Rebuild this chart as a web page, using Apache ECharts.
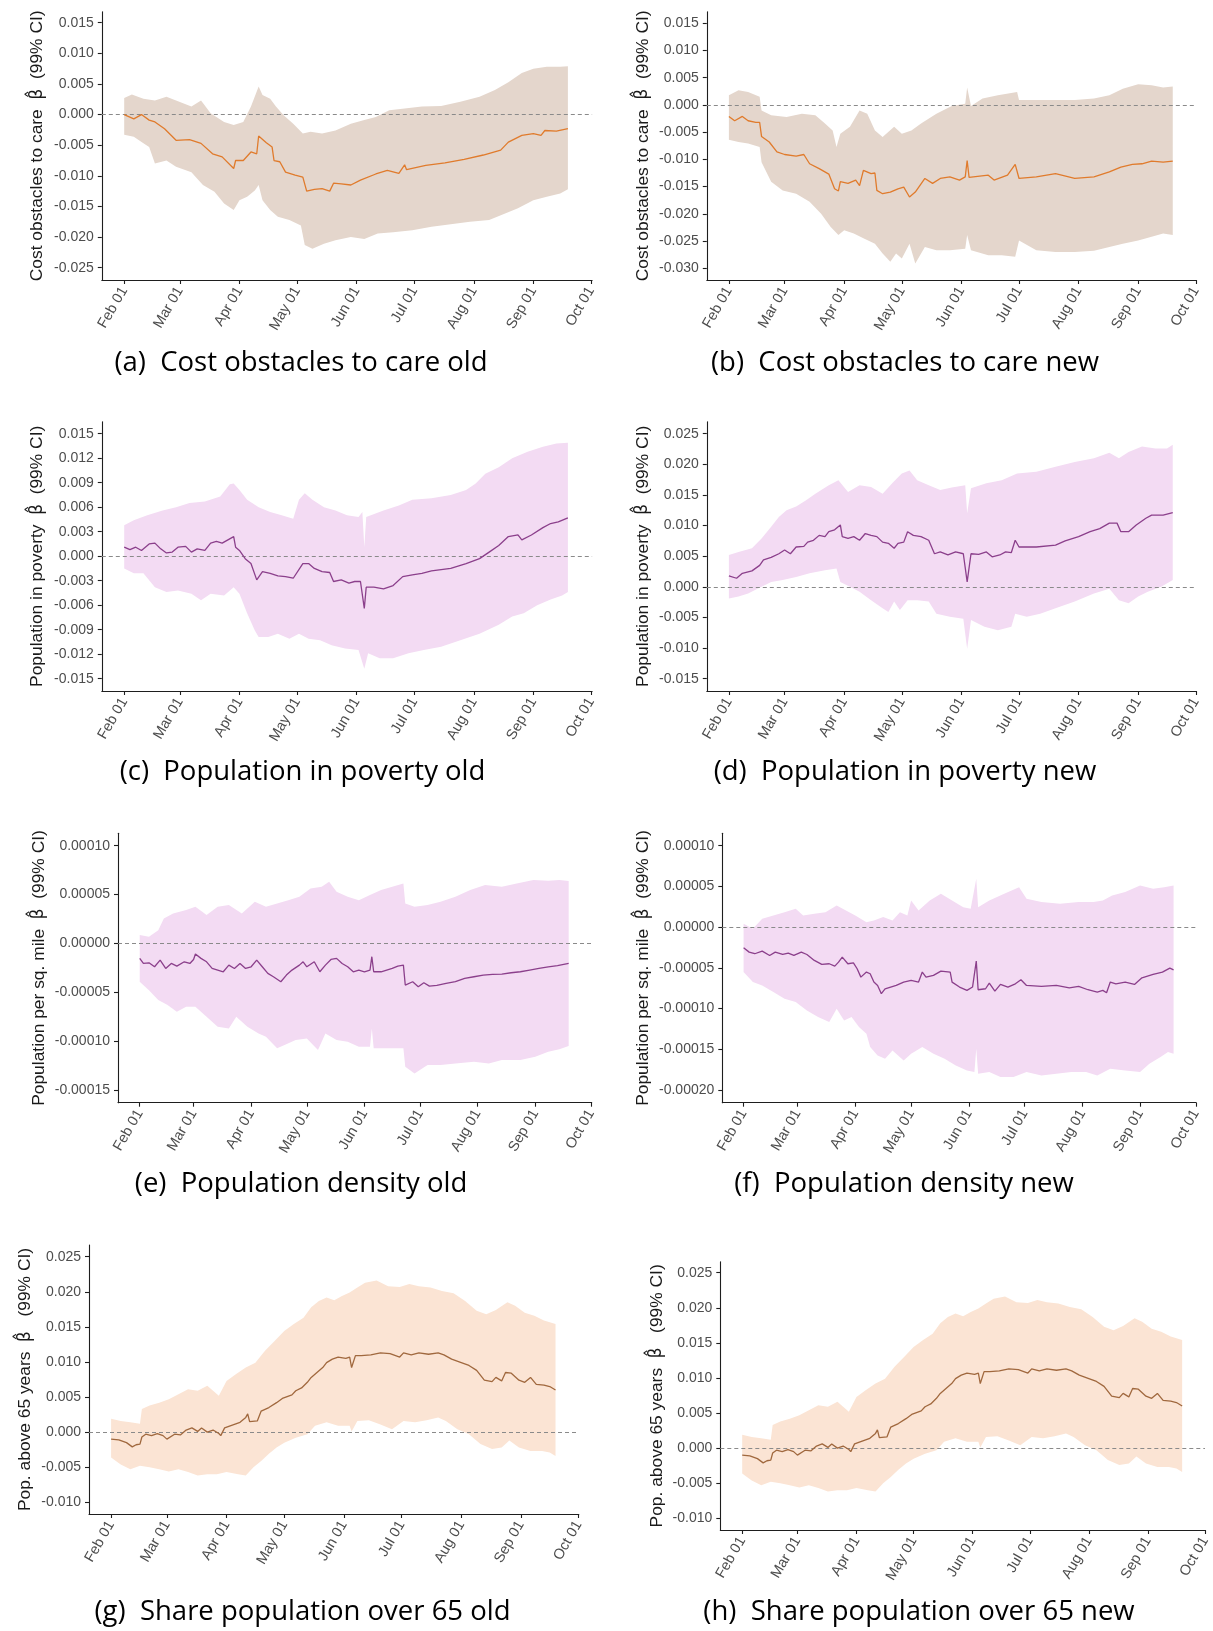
<!DOCTYPE html>
<html>
<head>
<meta charset="utf-8">
<script src="https://cdn.jsdelivr.net/npm/echarts@6/dist/echarts.min.js"></script>
<style>html,body{margin:0;padding:0;background:#fff}#c{width:1213px;height:1631px}</style>
</head>
<body>
<div id="c"></div>
<script>
// ---------- tick labels ----------
const monthTicks = [0, 29, 60, 90, 121, 151, 182, 213, 243];   // days since Feb 01 (2020)
const monthLabels = ['Feb 01','Mar 01','Apr 01','May 01','Jun 01','Jul 01','Aug 01','Sep 01','Oct 01'];
const ticksCostOld = [0.015,0.010,0.005,0,-0.005,-0.010,-0.015,-0.020,-0.025];
const ticksCostNew = [0.015,0.010,0.005,0,-0.005,-0.010,-0.015,-0.020,-0.025,-0.030];
const ticksPovOld = [0.015,0.012,0.009,0.006,0.003,0,-0.003,-0.006,-0.009,-0.012,-0.015];
const ticksPovNew = [0.025,0.020,0.015,0.010,0.005,0,-0.005,-0.010,-0.015];
const ticksDensOld = [0.00010,0.00005,0,-0.00005,-0.00010,-0.00015];
const ticksDensNew = [0.00010,0.00005,0,-0.00005,-0.00010,-0.00015,-0.00020];
const ticksOver65 = [0.025,0.020,0.015,0.010,0.005,0,-0.005,-0.010];

// ---------- (a) Cost obstacles to care old : [day, value] ----------
const costOldEst = [[0,0],[5,-0.0007],[9,0],[13,-0.0009],[16,-0.0012],[21,-0.0023],[27,-0.0042],[34,-0.0041],[40,-0.0047],[46,-0.0064],[51,-0.0069],[57,-0.0088],[58,-0.0075],[62,-0.0075],[66,-0.0061],[69,-0.0064],[70,-0.0035],[74,-0.0046],[77,-0.0053],[78,-0.0075],[81,-0.0077],[84,-0.0094],[89,-0.0099],[93,-0.0102],[95,-0.0125],[99,-0.0122],[103,-0.0121],[107,-0.0125],[109,-0.0112],[113,-0.0113],[118,-0.0115],[123,-0.0107],[131,-0.0097],[137,-0.0091],[143,-0.0096],[146,-0.0082],[147,-0.0090],[157,-0.0083],[167,-0.0079],[177,-0.0073],[187,-0.0066],[196,-0.0058],[200,-0.0045],[207,-0.0034],[213,-0.0031],[217,-0.0034],[219,-0.0026],[225,-0.0027],[231,-0.0023]];
const costOldHi = [[0,0.0027],[4,0.0033],[10,0.0026],[16,0.0023],[22,0.0029],[27,0.0023],[35,0.0013],[40,0.0023],[45,0.0002],[52,-0.0012],[57,-0.0017],[62,-0.0012],[66,0.0013],[70,0.0046],[72,0.0032],[76,0.0026],[79,0.0013],[83,-0.0001],[88,-0.0015],[93,-0.0031],[97,-0.0028],[103,-0.0031],[110,-0.0026],[118,-0.0015],[125,-0.0009],[131,-0.0004],[138,0.0007],[146,0.0010],[155,0.0013],[165,0.0014],[175,0.0021],[185,0.0029],[193,0.0040],[200,0.0053],[207,0.0068],[213,0.0075],[220,0.0078],[227,0.0078],[231,0.0079]];
const costOldLo = [[0,-0.0033],[5,-0.0036],[10,-0.0047],[13,-0.0053],[16,-0.0080],[22,-0.0075],[27,-0.0085],[35,-0.0094],[41,-0.0115],[47,-0.0126],[52,-0.0145],[57,-0.0156],[60,-0.0140],[64,-0.0134],[68,-0.0124],[70,-0.0115],[72,-0.0140],[76,-0.0156],[80,-0.0167],[86,-0.0172],[92,-0.0181],[94,-0.0213],[98,-0.0219],[104,-0.0211],[110,-0.0205],[118,-0.0200],[125,-0.0203],[132,-0.0194],[140,-0.0192],[150,-0.0189],[160,-0.0183],[170,-0.0179],[180,-0.0175],[190,-0.0172],[198,-0.0162],[205,-0.0153],[213,-0.0140],[220,-0.0134],[227,-0.0129],[231,-0.0122]];

// ---------- (b) Cost obstacles to care new ----------
const costNewEst = [[0,-0.0021],[3,-0.0029],[7,-0.0021],[10,-0.0029],[14,-0.0032],[16,-0.0032],[17,-0.0058],[21,-0.0068],[25,-0.0086],[29,-0.0091],[35,-0.0094],[39,-0.0091],[42,-0.0108],[47,-0.0117],[52,-0.0127],[55,-0.0154],[57,-0.0158],[58,-0.0141],[62,-0.0144],[66,-0.0138],[68,-0.0148],[70,-0.0120],[74,-0.0126],[76,-0.0125],[77,-0.0157],[80,-0.0163],[84,-0.0160],[88,-0.0154],[91,-0.0151],[94,-0.0169],[97,-0.0160],[102,-0.0135],[106,-0.0144],[110,-0.0135],[115,-0.0132],[120,-0.0138],[123,-0.0132],[124,-0.0102],[125,-0.0133],[135,-0.0129],[138,-0.0138],[145,-0.0129],[149,-0.0109],[151,-0.0135],[160,-0.0132],[170,-0.0126],[180,-0.0135],[190,-0.0132],[198,-0.0123],[204,-0.0114],[210,-0.0109],[215,-0.0108],[220,-0.0103],[226,-0.0105],[231,-0.0103]];
const costNewHi = [[0,0.0018],[5,0.0027],[10,0.0024],[16,0.0015],[17,-0.0010],[22,-0.0019],[30,-0.0022],[38,-0.0016],[45,-0.0019],[50,-0.0034],[54,-0.0047],[56,-0.0077],[58,-0.0053],[63,-0.0040],[68,-0.0010],[72,-0.0016],[76,-0.0047],[80,-0.0059],[86,-0.0040],[90,-0.0053],[95,-0.0047],[100,-0.0034],[108,-0.0016],[116,-0.0002],[123,0.0002],[124,0.0032],[126,-0.0002],[132,0.0012],[140,0.0018],[150,0.0024],[151,0.0009],[160,0.0009],[170,0.0009],[180,0.0009],[190,0.0012],[198,0.0018],[205,0.0030],[213,0.0038],[220,0.0036],[226,0.0032],[231,0.0034]];
const costNewLo = [[0,-0.0064],[5,-0.0068],[10,-0.0071],[16,-0.0077],[17,-0.0105],[22,-0.0141],[28,-0.0157],[35,-0.0163],[42,-0.0178],[48,-0.0200],[53,-0.0224],[57,-0.0239],[60,-0.0230],[65,-0.0236],[70,-0.0245],[76,-0.0255],[80,-0.0273],[84,-0.0288],[87,-0.0273],[90,-0.0282],[94,-0.0255],[97,-0.0291],[102,-0.0261],[108,-0.0267],[115,-0.0267],[123,-0.0264],[124,-0.0239],[126,-0.0267],[135,-0.0276],[142,-0.0276],[149,-0.0279],[151,-0.0249],[160,-0.0267],[170,-0.0270],[180,-0.0270],[190,-0.0268],[198,-0.0261],[205,-0.0255],[213,-0.0249],[220,-0.0242],[226,-0.0236],[231,-0.0239]];

// ---------- (c) Population in poverty old ----------
const povOldEst = [[0,0.0011],[3,0.0008],[6,0.0011],[9,0.0007],[13,0.0015],[16,0.0016],[19,0.0009],[22,0.0004],[25,0.0005],[28,0.0011],[32,0.0012],[35,0.0005],[38,0.0009],[42,0.0007],[45,0.0016],[48,0.0018],[51,0.0016],[54,0.0020],[57,0.0024],[58,0.0011],[60,0.0007],[63,-0.0003],[66,-0.0009],[69,-0.0029],[72,-0.0019],[76,-0.0021],[80,-0.0024],[84,-0.0025],[88,-0.0027],[93,-0.0009],[96,-0.0009],[99,-0.0015],[103,-0.0019],[107,-0.0020],[109,-0.0031],[113,-0.0029],[117,-0.0033],[120,-0.0031],[123,-0.0031],[125,-0.0064],[126,-0.0038],[130,-0.0038],[135,-0.0040],[140,-0.0036],[145,-0.0025],[150,-0.0023],[155,-0.0021],[160,-0.0018],[170,-0.0015],[178,-0.0009],[185,-0.0003],[190,0.0005],[195,0.0013],[200,0.0024],[205,0.0026],[207,0.0020],[212,0.0026],[218,0.0035],[222,0.0040],[226,0.0042],[231,0.0047]];
const povOldHi = [[0,0.0038],[5,0.0044],[12,0.0050],[20,0.0056],[27,0.0060],[34,0.0065],[42,0.0067],[50,0.0073],[55,0.0088],[57,0.0089],[60,0.0081],[64,0.0069],[70,0.0060],[76,0.0054],[82,0.0050],[88,0.0046],[91,0.0069],[94,0.0077],[98,0.0069],[104,0.0060],[110,0.0056],[116,0.0050],[122,0.0048],[124,0.0054],[125,0.0011],[126,0.0048],[135,0.0056],[143,0.0062],[150,0.0069],[160,0.0071],[170,0.0075],[178,0.0081],[183,0.0089],[188,0.0101],[195,0.0109],[202,0.0120],[210,0.0128],[218,0.0134],[225,0.0138],[231,0.0139]];
const povOldLo = [[0,-0.0015],[5,-0.0021],[10,-0.0021],[16,-0.0038],[22,-0.0044],[28,-0.0042],[35,-0.0046],[40,-0.0054],[45,-0.0046],[52,-0.0048],[57,-0.0038],[60,-0.0046],[64,-0.0070],[68,-0.0091],[70,-0.0099],[75,-0.0099],[80,-0.0095],[86,-0.0101],[91,-0.0095],[96,-0.0101],[102,-0.0103],[108,-0.0109],[115,-0.0113],[122,-0.0115],[125,-0.0138],[127,-0.0119],[133,-0.0125],[140,-0.0125],[148,-0.0119],[156,-0.0115],[165,-0.0111],[175,-0.0103],[185,-0.0095],[195,-0.0084],[202,-0.0074],[208,-0.0070],[215,-0.0060],[222,-0.0053],[228,-0.0048],[231,-0.0044]];

// ---------- (d) Population in poverty new ----------
const povNewEst = [[0,0.0018],[4,0.0014],[7,0.0022],[12,0.0026],[16,0.0035],[18,0.0044],[22,0.0048],[26,0.0054],[29,0.0060],[32,0.0054],[35,0.0065],[39,0.0066],[41,0.0073],[44,0.0076],[47,0.0084],[50,0.0082],[52,0.0090],[55,0.0093],[58,0.0101],[59,0.0082],[62,0.0079],[65,0.0082],[68,0.0076],[71,0.0087],[74,0.0084],[77,0.0082],[80,0.0073],[83,0.0071],[86,0.0063],[88,0.0071],[91,0.0073],[93,0.0090],[96,0.0084],[100,0.0082],[104,0.0076],[107,0.0054],[110,0.0057],[114,0.0052],[118,0.0057],[122,0.0054],[124,0.0008],[126,0.0054],[130,0.0053],[134,0.0057],[137,0.0049],[141,0.0052],[144,0.0057],[147,0.0056],[149,0.0076],[151,0.0065],[160,0.0065],[170,0.0068],[175,0.0075],[182,0.0082],[188,0.0090],[193,0.0095],[198,0.0104],[202,0.0104],[204,0.0090],[208,0.0090],[212,0.0101],[217,0.0112],[220,0.0117],[226,0.0117],[231,0.0121]];
const povNewHi = [[0,0.0052],[5,0.0057],[12,0.0063],[17,0.0079],[22,0.0098],[26,0.0114],[30,0.0125],[35,0.0131],[40,0.0141],[45,0.0152],[52,0.0166],[57,0.0174],[62,0.0155],[68,0.0166],[74,0.0163],[80,0.0152],[85,0.0169],[90,0.0185],[94,0.0190],[98,0.0174],[104,0.0166],[110,0.0158],[116,0.0162],[123,0.0166],[124,0.0120],[126,0.0161],[134,0.0169],[142,0.0174],[150,0.0185],[160,0.0188],[170,0.0196],[180,0.0204],[190,0.0210],[198,0.0219],[203,0.0210],[208,0.0220],[215,0.0229],[222,0.0226],[228,0.0226],[231,0.0232]];
const povNewLo = [[0,-0.0019],[5,-0.0016],[10,-0.0011],[17,0],[22,0.0008],[28,0.0011],[35,0.0016],[42,0.0022],[50,0.0027],[56,0.0030],[58,0.0008],[63,0],[68,-0.0008],[74,-0.0022],[80,-0.0035],[83,-0.0041],[86,-0.0024],[89,-0.0038],[93,-0.0022],[98,-0.0022],[104,-0.0024],[108,-0.0044],[115,-0.0049],[122,-0.0052],[124,-0.0101],[126,-0.0054],[133,-0.0065],[140,-0.0071],[147,-0.0065],[149,-0.0044],[155,-0.0049],[162,-0.0044],[170,-0.0035],[180,-0.0024],[190,-0.0011],[198,-0.0003],[203,-0.0022],[208,-0.0027],[213,-0.0016],[218,-0.0008],[225,0],[231,0.0011]];

// ---------- (e) Population density old ----------
const densOldEst = [[0,-0.0000153],[2,-0.0000205],[5,-0.0000198],[8,-0.0000239],[11,-0.0000171],[14,-0.0000256],[17,-0.0000205],[20,-0.0000232],[24,-0.0000188],[27,-0.0000205],[29,-0.0000164],[30,-0.0000109],[33,-0.0000153],[36,-0.0000188],[39,-0.0000256],[42,-0.0000273],[45,-0.0000290],[48,-0.0000222],[51,-0.0000256],[54,-0.0000205],[57,-0.0000256],[60,-0.0000239],[63,-0.0000171],[66,-0.0000239],[69,-0.0000307],[72,-0.0000341],[76,-0.0000392],[79,-0.0000324],[82,-0.0000273],[86,-0.0000222],[88,-0.0000188],[90,-0.0000239],[94,-0.0000188],[97,-0.0000290],[100,-0.0000222],[103,-0.0000164],[106,-0.0000153],[109,-0.0000205],[112,-0.0000239],[115,-0.0000290],[118,-0.0000273],[121,-0.0000290],[124,-0.0000273],[125,-0.0000136],[126,-0.0000290],[130,-0.0000290],[133,-0.0000273],[136,-0.0000256],[139,-0.0000232],[142,-0.0000222],[143,-0.0000426],[147,-0.0000392],[150,-0.0000443],[153,-0.0000402],[156,-0.0000437],[160,-0.0000430],[165,-0.0000409],[170,-0.0000392],[175,-0.0000358],[180,-0.0000341],[185,-0.0000324],[190,-0.0000317],[195,-0.0000314],[200,-0.0000300],[205,-0.0000290],[210,-0.0000273],[215,-0.0000256],[220,-0.0000239],[225,-0.0000228],[231,-0.0000205]];
const densOldHi = [[0,0.0000085],[5,0.0000068],[10,0.0000136],[13,0.0000256],[18,0.0000307],[25,0.0000341],[30,0.0000375],[36,0.0000290],[42,0.0000375],[48,0.0000392],[55,0.0000307],[62,0.0000426],[68,0.0000375],[74,0.0000409],[80,0.0000443],[86,0.0000478],[92,0.0000563],[98,0.0000580],[102,0.0000631],[106,0.0000529],[112,0.0000478],[118,0.0000443],[124,0.0000495],[130,0.0000546],[136,0.0000580],[142,0.0000614],[143,0.0000409],[148,0.0000375],[155,0.0000392],[162,0.0000426],[170,0.0000478],[178,0.0000546],[186,0.0000597],[195,0.0000580],[203,0.0000614],[212,0.0000648],[220,0.0000641],[226,0.0000648],[231,0.0000638]];
const densOldLo = [[0,-0.0000392],[5,-0.0000478],[10,-0.0000580],[15,-0.0000631],[20,-0.0000699],[25,-0.0000648],[30,-0.0000648],[36,-0.0000750],[42,-0.0000853],[48,-0.0000870],[52,-0.0000750],[58,-0.0000853],[64,-0.0000921],[68,-0.0000955],[74,-0.0001074],[78,-0.0001040],[84,-0.0000989],[90,-0.0000972],[96,-0.0001091],[100,-0.0000921],[106,-0.0000989],[112,-0.0001006],[118,-0.0001057],[124,-0.0001057],[125,-0.0000870],[126,-0.0001074],[134,-0.0001074],[142,-0.0001074],[143,-0.0001262],[148,-0.0001330],[155,-0.0001245],[162,-0.0001245],[170,-0.0001228],[180,-0.0001211],[188,-0.0001228],[195,-0.0001194],[205,-0.0001194],[213,-0.0001160],[220,-0.0001108],[226,-0.0001084],[231,-0.0001050]];

// ---------- (f) Population density new ----------
const densNewEst = [[0,-0.0000254],[3,-0.0000307],[6,-0.0000327],[10,-0.0000295],[14,-0.0000348],[17,-0.0000307],[21,-0.0000336],[24,-0.0000319],[27,-0.0000348],[31,-0.0000307],[34,-0.0000336],[38,-0.0000409],[42,-0.0000458],[46,-0.0000450],[49,-0.0000479],[51,-0.0000430],[53,-0.0000368],[56,-0.0000450],[59,-0.0000438],[61,-0.0000511],[63,-0.0000614],[66,-0.0000552],[68,-0.0000573],[70,-0.0000675],[72,-0.0000716],[74,-0.0000818],[76,-0.0000757],[79,-0.0000736],[82,-0.0000716],[86,-0.0000675],[90,-0.0000655],[94,-0.0000675],[96,-0.0000552],[98,-0.0000614],[102,-0.0000593],[106,-0.0000540],[111,-0.0000552],[112,-0.0000675],[116,-0.0000736],[120,-0.0000777],[123,-0.0000736],[125,-0.0000417],[126,-0.0000769],[130,-0.0000757],[132,-0.0000687],[135,-0.0000786],[138,-0.0000704],[142,-0.0000736],[146,-0.0000696],[149,-0.0000646],[152,-0.0000716],[160,-0.0000728],[168,-0.0000716],[175,-0.0000745],[180,-0.0000728],[185,-0.0000769],[190,-0.0000798],[193,-0.0000777],[195,-0.0000806],[197,-0.0000675],[200,-0.0000696],[205,-0.0000675],[210,-0.0000704],[214,-0.0000622],[220,-0.0000581],[225,-0.0000552],[229,-0.0000503],[231,-0.0000524]];
const densNewHi = [[0,0.0000041],[5,-0.0000020],[10,0.0000102],[16,0.0000143],[22,0.0000184],[28,0.0000225],[32,0.0000143],[38,0.0000164],[44,0.0000184],[50,0.0000266],[55,0.0000205],[60,0.0000143],[66,0.0000061],[70,0.0000082],[75,0.0000123],[80,0.0000082],[84,0.0000184],[88,0.0000143],[90,0.0000327],[94,0.0000205],[100,0.0000327],[106,0.0000409],[112,0.0000327],[118,0.0000245],[122,0.0000225],[125,0.0000593],[126,0.0000245],[132,0.0000327],[140,0.0000409],[148,0.0000491],[152,0.0000348],[160,0.0000307],[170,0.0000286],[180,0.0000307],[188,0.0000307],[193,0.0000327],[198,0.0000389],[205,0.0000430],[213,0.0000511],[220,0.0000470],[226,0.0000491],[231,0.0000511]];
const densNewLo = [[0,-0.0000552],[5,-0.0000675],[10,-0.0000716],[16,-0.0000798],[22,-0.0000880],[28,-0.0000921],[34,-0.0001023],[40,-0.0001105],[46,-0.0001166],[50,-0.0001002],[54,-0.0001146],[58,-0.0001105],[62,-0.0001227],[66,-0.0001309],[68,-0.0001473],[72,-0.0001575],[76,-0.0001616],[80,-0.0001514],[86,-0.0001637],[90,-0.0001555],[96,-0.0001473],[102,-0.0001555],[108,-0.0001616],[114,-0.0001698],[120,-0.0001760],[124,-0.0001780],[125,-0.0001493],[126,-0.0001800],[132,-0.0001780],[138,-0.0001841],[145,-0.0001841],[152,-0.0001780],[160,-0.0001821],[168,-0.0001800],[176,-0.0001780],[184,-0.0001780],[190,-0.0001821],[197,-0.0001739],[205,-0.0001760],[213,-0.0001780],[218,-0.0001678],[224,-0.0001596],[228,-0.0001534],[231,-0.0001555]];

// ---------- (g)/(h) Share population over 65 (same estimates in both panels) ----------
const over65Est = [[0,-0.0010],[4,-0.0011],[8,-0.0015],[11,-0.0021],[13,-0.0018],[15,-0.0017],[16,-0.0007],[18,-0.0003],[21,-0.0005],[24,-0.0002],[27,-0.0005],[29,-0.0010],[33,-0.0003],[36,-0.0004],[39,0.0003],[42,0.0006],[45,0.0001],[47,0.0006],[50,0],[53,0.0003],[56,-0.0002],[57,-0.0005],[59,0.0006],[63,0.0010],[67,0.0014],[70,0.0021],[71,0.0026],[72,0.0015],[76,0.0016],[78,0.0030],[82,0.0035],[86,0.0042],[89,0.0048],[94,0.0053],[96,0.0059],[99,0.0063],[102,0.0071],[104,0.0078],[107,0.0085],[110,0.0092],[112,0.0099],[115,0.0104],[118,0.0107],[122,0.0105],[124,0.0107],[125,0.0092],[127,0.0109],[130,0.0109],[135,0.0110],[140,0.0113],[145,0.0112],[150,0.0107],[152,0.0113],[156,0.0110],[160,0.0113],[165,0.0111],[170,0.0113],[173,0.0110],[177,0.0104],[182,0.0099],[186,0.0095],[190,0.0088],[194,0.0074],[198,0.0072],[200,0.0078],[203,0.0073],[205,0.0085],[208,0.0084],[212,0.0074],[215,0.0071],[218,0.0078],[221,0.0068],[225,0.0067],[228,0.0065],[231,0.0060]];
const over65Hi = [[0,0.0019],[5,0.0016],[10,0.0014],[15,0.0012],[16,0.0033],[20,0.0038],[25,0.0042],[30,0.0047],[35,0.0054],[40,0.0061],[45,0.0059],[50,0.0066],[56,0.0052],[60,0.0073],[65,0.0083],[70,0.0092],[75,0.0099],[80,0.0116],[85,0.0130],[90,0.0144],[95,0.0154],[100,0.0163],[104,0.0178],[108,0.0187],[112,0.0192],[116,0.0188],[120,0.0194],[124,0.0199],[128,0.0206],[132,0.0213],[138,0.0216],[144,0.0208],[150,0.0207],[155,0.0211],[160,0.0208],[166,0.0206],[172,0.0201],[178,0.0198],[184,0.0187],[190,0.0173],[195,0.0168],[200,0.0174],[206,0.0185],[210,0.0180],[215,0.0170],[220,0.0166],[225,0.0159],[231,0.0154]];
const over65Lo = [[0,-0.0036],[5,-0.0046],[10,-0.0053],[15,-0.0048],[20,-0.0050],[25,-0.0053],[30,-0.0056],[35,-0.0053],[40,-0.0057],[45,-0.0062],[50,-0.0060],[55,-0.0060],[60,-0.0057],[66,-0.0060],[70,-0.0062],[74,-0.0050],[78,-0.0041],[82,-0.0031],[86,-0.0022],[90,-0.0015],[96,-0.0008],[102,-0.0003],[106,0.0009],[112,0.0014],[118,0.0009],[124,0.0009],[125,0.0001],[128,0.0016],[134,0.0017],[140,0.0011],[146,0.0004],[152,0.0016],[158,0.0014],[164,0.0017],[170,0.0021],[174,0.0016],[180,0.0004],[186,-0.0003],[192,-0.0017],[198,-0.0024],[203,-0.0022],[207,-0.0012],[212,-0.0022],[218,-0.0027],[224,-0.0027],[228,-0.0029],[231,-0.0034]];

// ---------- text ----------
const yTitles = {
  cost: 'Cost obstacles to care  {b|β̂}  (99% CI)',
  pov: 'Population in poverty  {b|β̂}  (99% CI)',
  dens: 'Population per sq. mile  {b|β̂}  (99% CI)',
  over65: 'Pop. above 65 years  {b|β̂}   (99% CI)'
};
const captions = ['(a)  Cost obstacles to care old','(b)  Cost obstacles to care new','(c)  Population in poverty old','(d)  Population in poverty new','(e)  Population density old','(f)  Population density new','(g)  Share population over 65 old','(h)  Share population over 65 new'];

// ---------- colours ----------
const C = {
  costBand: '#e4d6cc', costLine: '#e07b2c',
  povBand: '#f3dbf3', povLine: '#8b3f8b',
  ageBand: '#fbe4d4', ageLine: '#a0683e'
};

// ---------- layout (pixel boxes) ----------
const panels = [
  {est: costOldEst, hi: costOldHi, lo: costOldLo, ticks: ticksCostOld, dec: 3, title: yTitles.cost, band: C.costBand, line: C.costLine,
   left: 101.8, top: 11.7, width: 490.3, height: 268.3, xmin: -11.66, xmax: 243.6, ymin: -0.02701, ymax: 0.0168, gap: 56, cap: [301, 363]},
  {est: costNewEst, hi: costNewHi, lo: costNewLo, ticks: ticksCostNew, dec: 3, title: yTitles.cost, band: C.costBand, line: C.costLine,
   left: 706.8, top: 11.7, width: 489.2, height: 268.3, xmin: -11.5, xmax: 243.1, ymin: -0.03215, ymax: 0.01713, gap: 55.5, cap: [905, 363]},
  {est: povOldEst, hi: povOldHi, lo: povOldLo, ticks: ticksPovOld, dec: 3, title: yTitles.pov, band: C.povBand, line: C.povLine,
   left: 101.8, top: 421.7, width: 490.3, height: 269.3, xmin: -11.66, xmax: 243.6, ymin: -0.01651, ymax: 0.01647, gap: 56, cap: [302.5, 772]},
  {est: povNewEst, hi: povNewHi, lo: povNewLo, ticks: ticksPovNew, dec: 3, title: yTitles.pov, band: C.povBand, line: C.povLine,
   left: 706.8, top: 421.7, width: 489.2, height: 269.3, xmin: -11.5, xmax: 243.1, ymin: -0.01701, ymax: 0.02696, gap: 55.5, cap: [905, 772]},
  {est: densOldEst, hi: densOldHi, lo: densOldLo, ticks: ticksDensOld, dec: 5, title: yTitles.dens, band: C.povBand, line: C.povLine,
   left: 118, top: 833.3, width: 473.7, height: 269.4, xmin: -11.69, xmax: 243.4, ymin: -0.000163, ymax: 0.0001127, gap: 70.5, cap: [301, 1184]},
  {est: densNewEst, hi: densNewHi, lo: densNewLo, ticks: ticksDensNew, dec: 5, title: yTitles.dens, band: C.povBand, line: C.povLine,
   left: 722.3, top: 833.3, width: 473.8, height: 269.4, xmin: -11.44, xmax: 243.1, ymin: -0.0002156, ymax: 0.0001152, gap: 70.5, cap: [904, 1184]},
  {est: over65Est, hi: over65Hi, lo: over65Lo, ticks: ticksOver65, dec: 3, title: yTitles.over65, band: C.ageBand, line: C.ageLine,
   left: 89, top: 1245, width: 489.8, height: 269, xmin: -11.49, xmax: 243.1, ymin: -0.01167, ymax: 0.02667, gap: 55, cap: [302.5, 1612]},
  {est: over65Est, hi: over65Hi, lo: over65Lo, ticks: ticksOver65, dec: 3, title: yTitles.over65, band: C.ageBand, line: C.ageLine,
   left: 720.3, top: 1261.7, width: 489.2, height: 268.3, xmin: -11.5, xmax: 243.0, ymin: -0.01167, ymax: 0.02657, gap: 55, cap: [919, 1612]}
];

const axisColor = '#1e1e1e';
const labelColor = '#4d4d4d';
const FONT = '"Liberation Sans", Arial, sans-serif';

const grid = [], xAxis = [], yAxis = [], series = [], graphic = [];
panels.forEach((p, i) => {
  grid.push({left: p.left, top: p.top, width: p.width, height: p.height, containLabel: false});
  xAxis.push({
    type: 'value', gridIndex: i, min: p.xmin, max: p.xmax,
    splitLine: {show: false},
    axisLine: {show: true, onZero: false, lineStyle: {color: axisColor, width: 1.1}},
    axisTick: {show: true, length: 4, customValues: monthTicks, lineStyle: {color: axisColor, width: 1.1}},
    axisLabel: {show: true, customValues: monthTicks, rotate: 60, margin: 8, color: labelColor, fontSize: 14.5, fontFamily: FONT,
      formatter: v => monthLabels[monthTicks.indexOf(Math.round(v))] || ''}
  });
  yAxis.push({
    type: 'value', gridIndex: i, min: p.ymin, max: p.ymax,
    splitLine: {show: false},
    axisLine: {show: true, onZero: false, lineStyle: {color: axisColor, width: 1.1}},
    axisTick: {show: true, length: 4, customValues: p.ticks, lineStyle: {color: axisColor, width: 1.1}},
    axisLabel: {show: true, customValues: p.ticks, margin: 8, color: labelColor, fontSize: 14, fontFamily: FONT,
      formatter: v => (Math.abs(v) < 1e-12 ? 0 : v).toFixed(p.dec)},
    name: p.title, nameLocation: 'middle', nameRotate: 90, nameGap: p.gap,
    nameTextStyle: {color: '#1a1a1a', fontSize: 17.4, fontFamily: FONT,
      rich: {b: {fontFamily: '"DejaVu Sans", sans-serif', fontSize: 17, color: '#1a1a1a'}}}
  });
  const hi = p.hi, lo = p.lo, bandColor = p.band;
  series.push({
    type: 'custom', xAxisIndex: i, yAxisIndex: i, silent: true, z: 1,
    data: [[0, 0]],
    renderItem: (params, api) => {
      const pts = hi.map(d => api.coord(d)).concat(lo.slice().reverse().map(d => api.coord(d)));
      return {type: 'polygon', shape: {points: pts}, style: {fill: bandColor}};
    }
  });
  series.push({
    type: 'line', xAxisIndex: i, yAxisIndex: i, data: p.est, showSymbol: false, symbol: 'none', z: 3,
    lineStyle: {color: p.line, width: 1.3}, animation: false,
    markLine: {silent: true, symbol: 'none', label: {show: false}, z: 2,
      lineStyle: {color: '#8a8a8a', type: [4, 3], width: 1}, data: [{yAxis: 0}]}
  });
  graphic.push({type: 'text', x: p.cap[0], y: p.cap[1],
    style: {text: captions[i], fill: '#000', fontSize: 27.5, fontFamily: '"Open Sans", sans-serif', align: 'center', verticalAlign: 'middle'}});
});

const chart = echarts.init(document.getElementById('c'), null, {renderer: 'canvas'});
chart.setOption({backgroundColor: '#ffffff', animation: false, grid, xAxis, yAxis, series, graphic});
</script>
</body>
</html>
